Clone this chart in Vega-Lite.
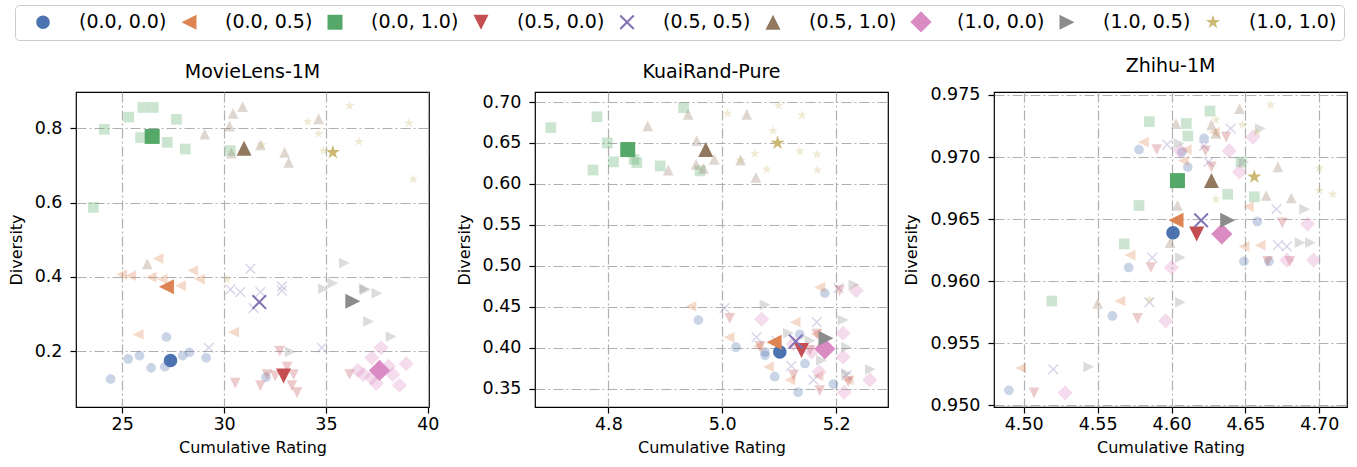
{
"$schema": "https://vega.github.io/schema/vega-lite/v6.json",
"padding": {"left": 7, "top": 4, "right": 0, "bottom": 0},
"bounds": "flush",
"spacing": 106,
"resolve": {"scale": {"x": "independent", "y": "independent"}},
"config": {
  "font": "DejaVu Sans",
  "view": {"stroke": "black", "strokeWidth": 1.2},
  "axis": {"grid": true, "gridColor": "#b0b0b0", "gridDash": [10, 3, 2, 3], "gridWidth": 1.2, "domain": false, "tickColor": "black", "tickSize": 6, "tickWidth": 1.2, "labelFontSize": 17.5, "labelColor": "black", "titleFontSize": 16, "titleFontWeight": "normal", "titleColor": "black", "labelFlush": false, "labelOverlap": false},
  "axisX": {"labelPadding": 2, "titlePadding": 7},
  "axisY": {"labelPadding": 8, "titlePadding": 10},
  "title": {"fontSize": 19, "fontWeight": "normal", "color": "black", "offset": 10, "frame": "group"}
},
"data": {"values": [
{"p":"ML","g":"(0.0, 0.0)","k":"s","x":24.43,"y":0.125},{"p":"ML","g":"(0.0, 0.0)","k":"s","x":25.29,"y":0.179},{"p":"ML","g":"(0.0, 0.0)","k":"s","x":25.85,"y":0.188},{"p":"ML","g":"(0.0, 0.0)","k":"s","x":26.42,"y":0.155},{"p":"ML","g":"(0.0, 0.0)","k":"s","x":27.09,"y":0.158},{"p":"ML","g":"(0.0, 0.0)","k":"s","x":27.17,"y":0.238},{"p":"ML","g":"(0.0, 0.0)","k":"s","x":27.97,"y":0.188},{"p":"ML","g":"(0.0, 0.0)","k":"s","x":28.30,"y":0.197},{"p":"ML","g":"(0.0, 0.0)","k":"s","x":29.12,"y":0.182},{"p":"ML","g":"(0.0, 0.0)","k":"s","x":32.06,"y":0.130},{"p":"ML","g":"(0.0, 0.0)","k":"b","x":27.37,"y":0.175},
{"p":"ML","g":"(0.0, 0.5)","k":"s","x":26.76,"y":0.449},{"p":"ML","g":"(0.0, 0.5)","k":"s","x":24.97,"y":0.406},{"p":"ML","g":"(0.0, 0.5)","k":"s","x":25.41,"y":0.403},{"p":"ML","g":"(0.0, 0.5)","k":"s","x":26.42,"y":0.399},{"p":"ML","g":"(0.0, 0.5)","k":"s","x":26.96,"y":0.394},{"p":"ML","g":"(0.0, 0.5)","k":"s","x":27.86,"y":0.376},{"p":"ML","g":"(0.0, 0.5)","k":"s","x":28.46,"y":0.417},{"p":"ML","g":"(0.0, 0.5)","k":"s","x":28.79,"y":0.394},{"p":"ML","g":"(0.0, 0.5)","k":"s","x":25.78,"y":0.245},{"p":"ML","g":"(0.0, 0.5)","k":"s","x":30.47,"y":0.251},{"p":"ML","g":"(0.0, 0.5)","k":"b","x":27.17,"y":0.373},
{"p":"ML","g":"(0.0, 1.0)","k":"s","x":24.12,"y":0.797},{"p":"ML","g":"(0.0, 1.0)","k":"s","x":25.32,"y":0.830},{"p":"ML","g":"(0.0, 1.0)","k":"s","x":26.01,"y":0.856},{"p":"ML","g":"(0.0, 1.0)","k":"s","x":26.53,"y":0.856},{"p":"ML","g":"(0.0, 1.0)","k":"s","x":27.66,"y":0.824},{"p":"ML","g":"(0.0, 1.0)","k":"s","x":25.90,"y":0.775},{"p":"ML","g":"(0.0, 1.0)","k":"s","x":27.21,"y":0.762},{"p":"ML","g":"(0.0, 1.0)","k":"s","x":28.10,"y":0.744},{"p":"ML","g":"(0.0, 1.0)","k":"s","x":30.31,"y":0.740},{"p":"ML","g":"(0.0, 1.0)","k":"s","x":23.58,"y":0.587},{"p":"ML","g":"(0.0, 1.0)","k":"b","x":26.47,"y":0.778},
{"p":"ML","g":"(0.5, 0.0)","k":"s","x":30.55,"y":0.114},{"p":"ML","g":"(0.5, 0.0)","k":"s","x":31.78,"y":0.107},{"p":"ML","g":"(0.5, 0.0)","k":"s","x":32.11,"y":0.137},{"p":"ML","g":"(0.5, 0.0)","k":"s","x":32.73,"y":0.200},{"p":"ML","g":"(0.5, 0.0)","k":"s","x":33.09,"y":0.157},{"p":"ML","g":"(0.5, 0.0)","k":"s","x":33.41,"y":0.137},{"p":"ML","g":"(0.5, 0.0)","k":"s","x":33.33,"y":0.107},{"p":"ML","g":"(0.5, 0.0)","k":"s","x":33.58,"y":0.088},{"p":"ML","g":"(0.5, 0.0)","k":"s","x":36.16,"y":0.137},{"p":"ML","g":"(0.5, 0.0)","k":"s","x":32.51,"y":0.133},{"p":"ML","g":"(0.5, 0.0)","k":"b","x":32.92,"y":0.133},
{"p":"ML","g":"(0.5, 0.5)","k":"s","x":31.29,"y":0.422},{"p":"ML","g":"(0.5, 0.5)","k":"s","x":30.31,"y":0.366},{"p":"ML","g":"(0.5, 0.5)","k":"s","x":30.80,"y":0.359},{"p":"ML","g":"(0.5, 0.5)","k":"s","x":31.78,"y":0.359},{"p":"ML","g":"(0.5, 0.5)","k":"s","x":32.84,"y":0.374},{"p":"ML","g":"(0.5, 0.5)","k":"s","x":32.84,"y":0.363},{"p":"ML","g":"(0.5, 0.5)","k":"s","x":31.45,"y":0.316},{"p":"ML","g":"(0.5, 0.5)","k":"s","x":29.25,"y":0.209},{"p":"ML","g":"(0.5, 0.5)","k":"s","x":34.80,"y":0.209},{"p":"ML","g":"(0.5, 0.5)","k":"b","x":31.73,"y":0.332},
{"p":"ML","g":"(0.5, 1.0)","k":"s","x":30.44,"y":0.840},{"p":"ML","g":"(0.5, 1.0)","k":"s","x":30.91,"y":0.858},{"p":"ML","g":"(0.5, 1.0)","k":"s","x":30.27,"y":0.806},{"p":"ML","g":"(0.5, 1.0)","k":"s","x":29.05,"y":0.784},{"p":"ML","g":"(0.5, 1.0)","k":"s","x":31.78,"y":0.755},{"p":"ML","g":"(0.5, 1.0)","k":"s","x":30.36,"y":0.733},{"p":"ML","g":"(0.5, 1.0)","k":"s","x":32.97,"y":0.735},{"p":"ML","g":"(0.5, 1.0)","k":"s","x":33.17,"y":0.708},{"p":"ML","g":"(0.5, 1.0)","k":"s","x":34.64,"y":0.825},{"p":"ML","g":"(0.5, 1.0)","k":"s","x":26.23,"y":0.435},{"p":"ML","g":"(0.5, 1.0)","k":"b","x":30.98,"y":0.746},
{"p":"ML","g":"(1.0, 0.0)","k":"s","x":37.71,"y":0.209},{"p":"ML","g":"(1.0, 0.0)","k":"s","x":38.94,"y":0.166},{"p":"ML","g":"(1.0, 0.0)","k":"s","x":36.57,"y":0.148},{"p":"ML","g":"(1.0, 0.0)","k":"s","x":36.84,"y":0.137},{"p":"ML","g":"(1.0, 0.0)","k":"s","x":37.25,"y":0.128},{"p":"ML","g":"(1.0, 0.0)","k":"s","x":37.47,"y":0.113},{"p":"ML","g":"(1.0, 0.0)","k":"s","x":38.28,"y":0.137},{"p":"ML","g":"(1.0, 0.0)","k":"s","x":38.61,"y":0.108},{"p":"ML","g":"(1.0, 0.0)","k":"s","x":37.25,"y":0.182},{"p":"ML","g":"(1.0, 0.0)","k":"s","x":38.07,"y":0.159},{"p":"ML","g":"(1.0, 0.0)","k":"b","x":37.63,"y":0.148},
{"p":"ML","g":"(1.0, 0.5)","k":"s","x":35.90,"y":0.437},{"p":"ML","g":"(1.0, 0.5)","k":"s","x":35.34,"y":0.383},{"p":"ML","g":"(1.0, 0.5)","k":"s","x":34.88,"y":0.368},{"p":"ML","g":"(1.0, 0.5)","k":"s","x":36.88,"y":0.368},{"p":"ML","g":"(1.0, 0.5)","k":"s","x":37.50,"y":0.356},{"p":"ML","g":"(1.0, 0.5)","k":"s","x":37.09,"y":0.280},{"p":"ML","g":"(1.0, 0.5)","k":"s","x":38.20,"y":0.239},{"p":"ML","g":"(1.0, 0.5)","k":"s","x":33.25,"y":0.198},{"p":"ML","g":"(1.0, 0.5)","k":"s","x":36.93,"y":0.365},{"p":"ML","g":"(1.0, 0.5)","k":"b","x":36.32,"y":0.334},
{"p":"ML","g":"(1.0, 1.0)","k":"s","x":34.10,"y":0.818},{"p":"ML","g":"(1.0, 1.0)","k":"s","x":36.16,"y":0.860},{"p":"ML","g":"(1.0, 1.0)","k":"s","x":34.64,"y":0.785},{"p":"ML","g":"(1.0, 1.0)","k":"s","x":34.88,"y":0.739},{"p":"ML","g":"(1.0, 1.0)","k":"s","x":36.62,"y":0.764},{"p":"ML","g":"(1.0, 1.0)","k":"s","x":39.07,"y":0.814},{"p":"ML","g":"(1.0, 1.0)","k":"s","x":39.29,"y":0.663},{"p":"ML","g":"(1.0, 1.0)","k":"s","x":31.86,"y":0.755},{"p":"ML","g":"(1.0, 1.0)","k":"s","x":30.15,"y":0.393},{"p":"ML","g":"(1.0, 1.0)","k":"b","x":35.34,"y":0.735},
{"p":"KR","g":"(0.0, 0.0)","k":"s","x":4.958,"y":0.434},{"p":"KR","g":"(0.0, 0.0)","k":"s","x":5.024,"y":0.401},{"p":"KR","g":"(0.0, 0.0)","k":"s","x":5.075,"y":0.391},{"p":"KR","g":"(0.0, 0.0)","k":"s","x":5.075,"y":0.395},{"p":"KR","g":"(0.0, 0.0)","k":"s","x":5.092,"y":0.365},{"p":"KR","g":"(0.0, 0.0)","k":"s","x":5.136,"y":0.4165},{"p":"KR","g":"(0.0, 0.0)","k":"s","x":5.145,"y":0.381},{"p":"KR","g":"(0.0, 0.0)","k":"s","x":5.133,"y":0.346},{"p":"KR","g":"(0.0, 0.0)","k":"s","x":5.180,"y":0.467},{"p":"KR","g":"(0.0, 0.0)","k":"s","x":5.195,"y":0.356},{"p":"KR","g":"(0.0, 0.0)","k":"b","x":5.101,"y":0.395},
{"p":"KR","g":"(0.0, 0.5)","k":"s","x":4.945,"y":0.4506},{"p":"KR","g":"(0.0, 0.5)","k":"s","x":5.012,"y":0.413},{"p":"KR","g":"(0.0, 0.5)","k":"s","x":5.063,"y":0.402},{"p":"KR","g":"(0.0, 0.5)","k":"s","x":5.081,"y":0.377},{"p":"KR","g":"(0.0, 0.5)","k":"s","x":5.128,"y":0.4315},{"p":"KR","g":"(0.0, 0.5)","k":"s","x":5.119,"y":0.361},{"p":"KR","g":"(0.0, 0.5)","k":"s","x":5.171,"y":0.474},{"p":"KR","g":"(0.0, 0.5)","k":"s","x":5.168,"y":0.366},{"p":"KR","g":"(0.0, 0.5)","k":"s","x":5.221,"y":0.361},{"p":"KR","g":"(0.0, 0.5)","k":"s","x":5.164,"y":0.417},{"p":"KR","g":"(0.0, 0.5)","k":"b","x":5.091,"y":0.407},
{"p":"KR","g":"(0.0, 1.0)","k":"s","x":4.699,"y":0.6687},{"p":"KR","g":"(0.0, 1.0)","k":"s","x":4.780,"y":0.682},{"p":"KR","g":"(0.0, 1.0)","k":"s","x":4.773,"y":0.617},{"p":"KR","g":"(0.0, 1.0)","k":"s","x":4.798,"y":0.650},{"p":"KR","g":"(0.0, 1.0)","k":"s","x":4.809,"y":0.627},{"p":"KR","g":"(0.0, 1.0)","k":"s","x":4.845,"y":0.630},{"p":"KR","g":"(0.0, 1.0)","k":"s","x":4.850,"y":0.626},{"p":"KR","g":"(0.0, 1.0)","k":"s","x":4.891,"y":0.622},{"p":"KR","g":"(0.0, 1.0)","k":"s","x":4.932,"y":0.693},{"p":"KR","g":"(0.0, 1.0)","k":"s","x":4.961,"y":0.616},{"p":"KR","g":"(0.0, 1.0)","k":"b","x":4.834,"y":0.642},
{"p":"KR","g":"(0.5, 0.0)","k":"s","x":5.013,"y":0.436},{"p":"KR","g":"(0.5, 0.0)","k":"s","x":5.066,"y":0.402},{"p":"KR","g":"(0.5, 0.0)","k":"s","x":5.125,"y":0.367},{"p":"KR","g":"(0.5, 0.0)","k":"s","x":5.171,"y":0.348},{"p":"KR","g":"(0.5, 0.0)","k":"s","x":5.206,"y":0.470},{"p":"KR","g":"(0.5, 0.0)","k":"s","x":5.221,"y":0.359},{"p":"KR","g":"(0.5, 0.0)","k":"s","x":5.166,"y":0.417},{"p":"KR","g":"(0.5, 0.0)","k":"s","x":5.154,"y":0.397},{"p":"KR","g":"(0.5, 0.0)","k":"b","x":5.139,"y":0.397},
{"p":"KR","g":"(0.5, 0.5)","k":"s","x":5.004,"y":0.4485},{"p":"KR","g":"(0.5, 0.5)","k":"s","x":5.060,"y":0.413},{"p":"KR","g":"(0.5, 0.5)","k":"s","x":5.121,"y":0.378},{"p":"KR","g":"(0.5, 0.5)","k":"s","x":5.160,"y":0.361},{"p":"KR","g":"(0.5, 0.5)","k":"s","x":5.166,"y":0.4315},{"p":"KR","g":"(0.5, 0.5)","k":"s","x":5.204,"y":0.473},{"p":"KR","g":"(0.5, 0.5)","k":"s","x":5.218,"y":0.367},{"p":"KR","g":"(0.5, 0.5)","k":"s","x":5.095,"y":0.409},{"p":"KR","g":"(0.5, 0.5)","k":"b","x":5.129,"y":0.408},
{"p":"KR","g":"(0.5, 1.0)","k":"s","x":4.869,"y":0.671},{"p":"KR","g":"(0.5, 1.0)","k":"s","x":4.905,"y":0.617},{"p":"KR","g":"(0.5, 1.0)","k":"s","x":4.940,"y":0.685},{"p":"KR","g":"(0.5, 1.0)","k":"s","x":4.955,"y":0.653},{"p":"KR","g":"(0.5, 1.0)","k":"s","x":4.954,"y":0.624},{"p":"KR","g":"(0.5, 1.0)","k":"s","x":4.967,"y":0.619},{"p":"KR","g":"(0.5, 1.0)","k":"s","x":4.986,"y":0.630},{"p":"KR","g":"(0.5, 1.0)","k":"s","x":5.043,"y":0.685},{"p":"KR","g":"(0.5, 1.0)","k":"s","x":5.032,"y":0.629},{"p":"KR","g":"(0.5, 1.0)","k":"s","x":5.059,"y":0.608},{"p":"KR","g":"(0.5, 1.0)","k":"b","x":4.971,"y":0.642},
{"p":"KR","g":"(1.0, 0.0)","k":"s","x":5.069,"y":0.435},{"p":"KR","g":"(1.0, 0.0)","k":"s","x":5.125,"y":0.405},{"p":"KR","g":"(1.0, 0.0)","k":"s","x":5.157,"y":0.395},{"p":"KR","g":"(1.0, 0.0)","k":"s","x":5.170,"y":0.371},{"p":"KR","g":"(1.0, 0.0)","k":"s","x":5.212,"y":0.418},{"p":"KR","g":"(1.0, 0.0)","k":"s","x":5.212,"y":0.389},{"p":"KR","g":"(1.0, 0.0)","k":"s","x":5.235,"y":0.470},{"p":"KR","g":"(1.0, 0.0)","k":"s","x":5.259,"y":0.361},{"p":"KR","g":"(1.0, 0.0)","k":"s","x":5.214,"y":0.346},{"p":"KR","g":"(1.0, 0.0)","k":"b","x":5.180,"y":0.399},
{"p":"KR","g":"(1.0, 0.5)","k":"s","x":5.075,"y":0.4527},{"p":"KR","g":"(1.0, 0.5)","k":"s","x":5.116,"y":0.418},{"p":"KR","g":"(1.0, 0.5)","k":"s","x":5.154,"y":0.409},{"p":"KR","g":"(1.0, 0.5)","k":"s","x":5.174,"y":0.385},{"p":"KR","g":"(1.0, 0.5)","k":"s","x":5.212,"y":0.434},{"p":"KR","g":"(1.0, 0.5)","k":"s","x":5.218,"y":0.401},{"p":"KR","g":"(1.0, 0.5)","k":"s","x":5.231,"y":0.477},{"p":"KR","g":"(1.0, 0.5)","k":"s","x":5.260,"y":0.374},{"p":"KR","g":"(1.0, 0.5)","k":"s","x":5.218,"y":0.369},{"p":"KR","g":"(1.0, 0.5)","k":"b","x":5.182,"y":0.412},
{"p":"KR","g":"(1.0, 1.0)","k":"s","x":5.009,"y":0.686},{"p":"KR","g":"(1.0, 1.0)","k":"s","x":5.099,"y":0.696},{"p":"KR","g":"(1.0, 1.0)","k":"s","x":5.140,"y":0.684},{"p":"KR","g":"(1.0, 1.0)","k":"s","x":5.089,"y":0.665},{"p":"KR","g":"(1.0, 1.0)","k":"s","x":5.057,"y":0.637},{"p":"KR","g":"(1.0, 1.0)","k":"s","x":5.032,"y":0.629},{"p":"KR","g":"(1.0, 1.0)","k":"s","x":5.078,"y":0.618},{"p":"KR","g":"(1.0, 1.0)","k":"s","x":5.136,"y":0.640},{"p":"KR","g":"(1.0, 1.0)","k":"s","x":5.166,"y":0.636},{"p":"KR","g":"(1.0, 1.0)","k":"s","x":5.167,"y":0.617},{"p":"KR","g":"(1.0, 1.0)","k":"b","x":5.097,"y":0.650},
{"p":"ZH","g":"(0.0, 0.0)","k":"s","x":4.578,"y":0.9706},{"p":"ZH","g":"(0.0, 0.0)","k":"s","x":4.607,"y":0.9704},{"p":"ZH","g":"(0.0, 0.0)","k":"s","x":4.622,"y":0.9715},{"p":"ZH","g":"(0.0, 0.0)","k":"s","x":4.611,"y":0.9692},{"p":"ZH","g":"(0.0, 0.0)","k":"s","x":4.658,"y":0.9648},{"p":"ZH","g":"(0.0, 0.0)","k":"s","x":4.649,"y":0.9616},{"p":"ZH","g":"(0.0, 0.0)","k":"s","x":4.666,"y":0.9616},{"p":"ZH","g":"(0.0, 0.0)","k":"s","x":4.571,"y":0.9611},{"p":"ZH","g":"(0.0, 0.0)","k":"s","x":4.560,"y":0.9572},{"p":"ZH","g":"(0.0, 0.0)","k":"s","x":4.490,"y":0.9512},{"p":"ZH","g":"(0.0, 0.0)","k":"b","x":4.601,"y":0.9639},
{"p":"ZH","g":"(0.0, 0.5)","k":"s","x":4.581,"y":0.9712},{"p":"ZH","g":"(0.0, 0.5)","k":"s","x":4.610,"y":0.9706},{"p":"ZH","g":"(0.0, 0.5)","k":"s","x":4.608,"y":0.9697},{"p":"ZH","g":"(0.0, 0.5)","k":"s","x":4.629,"y":0.9720},{"p":"ZH","g":"(0.0, 0.5)","k":"s","x":4.652,"y":0.9660},{"p":"ZH","g":"(0.0, 0.5)","k":"s","x":4.649,"y":0.9628},{"p":"ZH","g":"(0.0, 0.5)","k":"s","x":4.660,"y":0.9629},{"p":"ZH","g":"(0.0, 0.5)","k":"s","x":4.572,"y":0.9621},{"p":"ZH","g":"(0.0, 0.5)","k":"s","x":4.565,"y":0.9584},{"p":"ZH","g":"(0.0, 0.5)","k":"s","x":4.498,"y":0.9530},{"p":"ZH","g":"(0.0, 0.5)","k":"b","x":4.603,"y":0.9649},
{"p":"ZH","g":"(0.0, 1.0)","k":"s","x":4.585,"y":0.97285},{"p":"ZH","g":"(0.0, 1.0)","k":"s","x":4.610,"y":0.9727},{"p":"ZH","g":"(0.0, 1.0)","k":"s","x":4.611,"y":0.9717},{"p":"ZH","g":"(0.0, 1.0)","k":"s","x":4.626,"y":0.9737},{"p":"ZH","g":"(0.0, 1.0)","k":"s","x":4.647,"y":0.9696},{"p":"ZH","g":"(0.0, 1.0)","k":"s","x":4.638,"y":0.9670},{"p":"ZH","g":"(0.0, 1.0)","k":"s","x":4.656,"y":0.9668},{"p":"ZH","g":"(0.0, 1.0)","k":"s","x":4.578,"y":0.9661},{"p":"ZH","g":"(0.0, 1.0)","k":"s","x":4.568,"y":0.9630},{"p":"ZH","g":"(0.0, 1.0)","k":"s","x":4.519,"y":0.9584},{"p":"ZH","g":"(0.0, 1.0)","k":"b","x":4.604,"y":0.9681},
{"p":"ZH","g":"(0.5, 0.0)","k":"s","x":4.590,"y":0.9706},{"p":"ZH","g":"(0.5, 0.0)","k":"s","x":4.623,"y":0.9705},{"p":"ZH","g":"(0.5, 0.0)","k":"s","x":4.627,"y":0.9692},{"p":"ZH","g":"(0.5, 0.0)","k":"s","x":4.637,"y":0.9716},{"p":"ZH","g":"(0.5, 0.0)","k":"s","x":4.675,"y":0.9647},{"p":"ZH","g":"(0.5, 0.0)","k":"s","x":4.665,"y":0.9616},{"p":"ZH","g":"(0.5, 0.0)","k":"s","x":4.680,"y":0.9616},{"p":"ZH","g":"(0.5, 0.0)","k":"s","x":4.586,"y":0.9611},{"p":"ZH","g":"(0.5, 0.0)","k":"s","x":4.577,"y":0.9570},{"p":"ZH","g":"(0.5, 0.0)","k":"s","x":4.507,"y":0.9510},{"p":"ZH","g":"(0.5, 0.0)","k":"b","x":4.617,"y":0.9638},
{"p":"ZH","g":"(0.5, 0.5)","k":"s","x":4.597,"y":0.9710},{"p":"ZH","g":"(0.5, 0.5)","k":"s","x":4.622,"y":0.9709},{"p":"ZH","g":"(0.5, 0.5)","k":"s","x":4.625,"y":0.9696},{"p":"ZH","g":"(0.5, 0.5)","k":"s","x":4.640,"y":0.9723},{"p":"ZH","g":"(0.5, 0.5)","k":"s","x":4.671,"y":0.9658},{"p":"ZH","g":"(0.5, 0.5)","k":"s","x":4.672,"y":0.9629},{"p":"ZH","g":"(0.5, 0.5)","k":"s","x":4.678,"y":0.9628},{"p":"ZH","g":"(0.5, 0.5)","k":"s","x":4.587,"y":0.9619},{"p":"ZH","g":"(0.5, 0.5)","k":"s","x":4.585,"y":0.9583},{"p":"ZH","g":"(0.5, 0.5)","k":"s","x":4.520,"y":0.9529},{"p":"ZH","g":"(0.5, 0.5)","k":"b","x":4.620,"y":0.9649},
{"p":"ZH","g":"(0.5, 1.0)","k":"s","x":4.603,"y":0.9727},{"p":"ZH","g":"(0.5, 1.0)","k":"s","x":4.627,"y":0.9726},{"p":"ZH","g":"(0.5, 1.0)","k":"s","x":4.646,"y":0.9739},{"p":"ZH","g":"(0.5, 1.0)","k":"s","x":4.630,"y":0.9719},{"p":"ZH","g":"(0.5, 1.0)","k":"s","x":4.672,"y":0.9692},{"p":"ZH","g":"(0.5, 1.0)","k":"s","x":4.664,"y":0.9669},{"p":"ZH","g":"(0.5, 1.0)","k":"s","x":4.681,"y":0.9667},{"p":"ZH","g":"(0.5, 1.0)","k":"s","x":4.604,"y":0.9661},{"p":"ZH","g":"(0.5, 1.0)","k":"s","x":4.599,"y":0.9631},{"p":"ZH","g":"(0.5, 1.0)","k":"s","x":4.550,"y":0.9582},{"p":"ZH","g":"(0.5, 1.0)","k":"b","x":4.627,"y":0.9681},
{"p":"ZH","g":"(1.0, 0.0)","k":"s","x":4.606,"y":0.9705},{"p":"ZH","g":"(1.0, 0.0)","k":"s","x":4.639,"y":0.9705},{"p":"ZH","g":"(1.0, 0.0)","k":"s","x":4.655,"y":0.9716},{"p":"ZH","g":"(1.0, 0.0)","k":"s","x":4.646,"y":0.9688},{"p":"ZH","g":"(1.0, 0.0)","k":"s","x":4.692,"y":0.9646},{"p":"ZH","g":"(1.0, 0.0)","k":"s","x":4.678,"y":0.9617},{"p":"ZH","g":"(1.0, 0.0)","k":"s","x":4.696,"y":0.9617},{"p":"ZH","g":"(1.0, 0.0)","k":"s","x":4.600,"y":0.9611},{"p":"ZH","g":"(1.0, 0.0)","k":"s","x":4.596,"y":0.9568},{"p":"ZH","g":"(1.0, 0.0)","k":"s","x":4.528,"y":0.9510},{"p":"ZH","g":"(1.0, 0.0)","k":"b","x":4.634,"y":0.9638},
{"p":"ZH","g":"(1.0, 0.5)","k":"s","x":4.605,"y":0.9711},{"p":"ZH","g":"(1.0, 0.5)","k":"s","x":4.660,"y":0.9723},{"p":"ZH","g":"(1.0, 0.5)","k":"s","x":4.649,"y":0.9696},{"p":"ZH","g":"(1.0, 0.5)","k":"s","x":4.690,"y":0.9658},{"p":"ZH","g":"(1.0, 0.5)","k":"s","x":4.687,"y":0.9631},{"p":"ZH","g":"(1.0, 0.5)","k":"s","x":4.694,"y":0.9631},{"p":"ZH","g":"(1.0, 0.5)","k":"s","x":4.606,"y":0.9619},{"p":"ZH","g":"(1.0, 0.5)","k":"s","x":4.606,"y":0.9583},{"p":"ZH","g":"(1.0, 0.5)","k":"s","x":4.544,"y":0.9531},{"p":"ZH","g":"(1.0, 0.5)","k":"b","x":4.638,"y":0.9649},
{"p":"ZH","g":"(1.0, 1.0)","k":"s","x":4.667,"y":0.9742},{"p":"ZH","g":"(1.0, 1.0)","k":"s","x":4.630,"y":0.9730},{"p":"ZH","g":"(1.0, 1.0)","k":"s","x":4.648,"y":0.9726},{"p":"ZH","g":"(1.0, 1.0)","k":"s","x":4.630,"y":0.9666},{"p":"ZH","g":"(1.0, 1.0)","k":"s","x":4.700,"y":0.9691},{"p":"ZH","g":"(1.0, 1.0)","k":"s","x":4.700,"y":0.9673},{"p":"ZH","g":"(1.0, 1.0)","k":"s","x":4.709,"y":0.9670},{"p":"ZH","g":"(1.0, 1.0)","k":"s","x":4.585,"y":0.9585},{"p":"ZH","g":"(1.0, 1.0)","k":"s","x":4.658,"y":0.9720},{"p":"ZH","g":"(1.0, 1.0)","k":"b","x":4.656,"y":0.9684}
]},
"hconcat": [
{
  "title": "MovieLens-1M",
  "width": 353, "height": 315,
  "transform": [{"filter": "datum.p == 'ML'"}],
  "mark": {"type": "point", "filled": true, "strokeWidth": 0, "opacity": 1},
  "encoding": {
    "x": {"field": "x", "type": "quantitative", "scale": {"domain": [22.73, 40.06], "nice": false, "zero": false}, "axis": {"title": "Cumulative Rating", "values": [25, 30, 35, 40], "format": "d"}},
    "y": {"field": "y", "type": "quantitative", "scale": {"domain": [0.0495, 0.8976], "nice": false, "zero": false}, "axis": {"title": "Diversity", "values": [0.2, 0.4, 0.6, 0.8], "format": ".1f"}},
    "color": {"field": "g", "type": "nominal", "scale": {"domain": ["(0.0, 0.0)", "(0.0, 0.5)", "(0.0, 1.0)", "(0.5, 0.0)", "(0.5, 0.5)", "(0.5, 1.0)", "(1.0, 0.0)", "(1.0, 0.5)", "(1.0, 1.0)"], "range": ["#4C72B0", "#DD8452", "#55A868", "#C44E52", "#8172B3", "#937860", "#DA8BC3", "#8C8C8C", "#CCB974"]},
      "legend": {"orient": "none", "legendX": -61, "legendY": -87, "direction": "horizontal", "columns": 9, "title": " ", "titleOrient": "left", "titlePadding": 11.5, "titleFontSize": 19, "labelFontSize": 19, "labelColor": "black", "labelOffset": 26.5, "columnPadding": 13, "symbolSize": 225, "symbolStrokeWidth": 0, "symbolOpacity": 1, "strokeColor": "#cccccc", "cornerRadius": 4, "padding": 7, "fillColor": "white"}},
    "shape": {"field": "g", "type": "nominal", "scale": {"domain": ["(0.0, 0.0)", "(0.0, 0.5)", "(0.0, 1.0)", "(0.5, 0.0)", "(0.5, 0.5)", "(0.5, 1.0)", "(1.0, 0.0)", "(1.0, 0.5)", "(1.0, 1.0)"], "range": ["M0.9,0A0.9,0.9,0,1,1,-0.9,0A0.9,0.9,0,1,1,0.9,0Z", "M-1,0L1,-1L1,1Z", "M-1,-1L1,-1L1,1L-1,1Z", "M0,1L-1,-1L1,-1Z", "M-1,-0.81L-0.81,-1L0,-0.19L0.81,-1L1,-0.81L0.19,0L1,0.81L0.81,1L0,0.19L-0.81,1L-1,0.81L-0.19,0Z", "M0,-1L1,1L-1,1Z", "M0,-1.414L1.414,0L0,1.414L-1.414,0Z", "M1,0L-1,-1L-1,1Z", "M0,-1L0.2245,-0.309L0.951,-0.309L0.3633,0.118L0.5878,0.809L0,0.382L-0.5878,0.809L-0.3633,0.118L-0.951,-0.309L-0.2245,-0.309Z"]}},
    "size": {"field": "k", "type": "nominal", "scale": {"domain": ["s", "b"], "range": [115, 225]}, "legend": null},
    "opacity": {"field": "k", "type": "nominal", "scale": {"domain": ["s", "b"], "range": [0.3, 1]}, "legend": null},
    "order": {"field": "k", "sort": "descending"}
  }
},
{
  "title": "KuaiRand-Pure",
  "width": 353, "height": 315,
  "transform": [{"filter": "datum.p == 'KR'"}],
  "mark": {"type": "point", "filled": true, "strokeWidth": 0, "opacity": 1},
  "encoding": {
    "x": {"field": "x", "type": "quantitative", "scale": {"domain": [4.6712, 5.2909], "nice": false, "zero": false}, "axis": {"title": "Cumulative Rating", "values": [4.8, 5.0, 5.2], "format": ".1f"}},
    "y": {"field": "y", "type": "quantitative", "scale": {"domain": [0.328, 0.7122], "nice": false, "zero": false}, "axis": {"title": "Diversity", "values": [0.35, 0.4, 0.45, 0.5, 0.55, 0.6, 0.65, 0.7], "format": ".2f"}},
    "color": {"field": "g", "type": "nominal"},
    "shape": {"field": "g", "type": "nominal"},
    "size": {"field": "k", "type": "nominal", "legend": null},
    "opacity": {"field": "k", "type": "nominal", "legend": null},
    "order": {"field": "k", "sort": "descending"}
  }
},
{
  "title": "Zhihu-1M",
  "width": 353, "height": 315,
  "transform": [{"filter": "datum.p == 'ZH'"}],
  "mark": {"type": "point", "filled": true, "strokeWidth": 0, "opacity": 1},
  "encoding": {
    "x": {"field": "x", "type": "quantitative", "scale": {"domain": [4.4799, 4.7187], "nice": false, "zero": false}, "axis": {"title": "Cumulative Rating", "values": [4.5, 4.55, 4.6, 4.65, 4.7], "format": ".2f"}},
    "y": {"field": "y", "type": "quantitative", "scale": {"domain": [0.94986, 0.97524], "nice": false, "zero": false}, "axis": {"title": "Diversity", "values": [0.95, 0.955, 0.96, 0.965, 0.97, 0.975], "format": ".3f"}},
    "color": {"field": "g", "type": "nominal"},
    "shape": {"field": "g", "type": "nominal"},
    "size": {"field": "k", "type": "nominal", "legend": null},
    "opacity": {"field": "k", "type": "nominal", "legend": null},
    "order": {"field": "k", "sort": "descending"}
  }
}
]
}
